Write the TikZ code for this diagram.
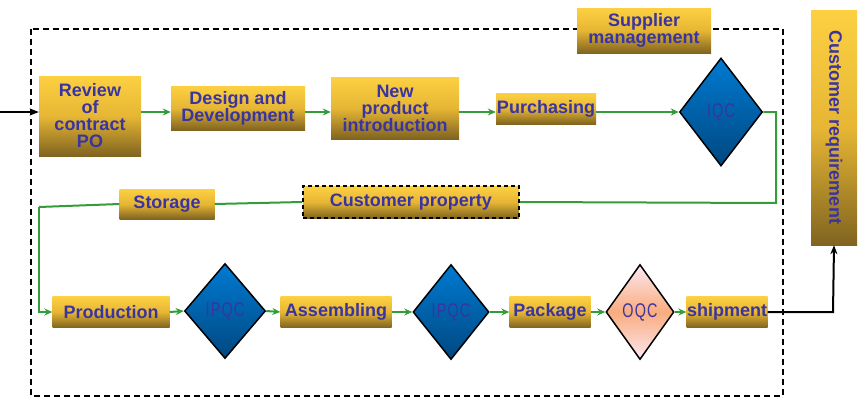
\documentclass[tikz,border=0pt]{standalone}
\usepackage{fontspec}
\setmainfont{Liberation Sans}
\newfontfamily\qcfont[LetterSpace=8]{Liberation Sans}
\usetikzlibrary{shapes.geometric,arrows.meta}
\definecolor{txtblue}{RGB}{58,52,160}
\definecolor{goldtop}{RGB}{253,208,66}
\definecolor{goldmid}{RGB}{230,182,52}
\definecolor{goldbot}{RGB}{128,100,32}
\definecolor{bluetop}{RGB}{0,122,210}
\definecolor{bluebot}{RGB}{0,72,128}
\definecolor{flowgreen}{RGB}{52,156,56}
\definecolor{oqctop}{RGB}{252,232,242}
\definecolor{oqcmid}{RGB}{249,172,126}
\newcommand{\qctext}[1]{\scalebox{0.8}[1.1]{#1}}
\tikzset{
  gbox/.style={rectangle, inner sep=0pt, top color=goldtop, bottom color=goldbot, middle color=goldmid,
    text=txtblue, font=\fontsize{18}{17}\selectfont\bfseries, align=center},
  qcdia/.style={diamond, inner sep=0pt, draw=black, line width=1.5pt, top color=bluetop, bottom color=bluebot,
    text=txtblue, font=\qcfont\fontsize{18}{18}\selectfont},
  oqcdia/.style={diamond, inner sep=0pt, draw=black, line width=1.5pt, top color=oqctop, bottom color=oqctop, middle color=oqcmid,
    text=txtblue, font=\qcfont\fontsize{18}{18}\selectfont},
  garrow/.style={draw=flowgreen, line width=2pt, -{Stealth[length=8pt,width=7pt]}},
  gline/.style={draw=flowgreen, line width=2pt},
  barrow/.style={draw=black, line width=2pt, -{Stealth[length=9pt,width=7pt]}},
}
\begin{document}
\begin{tikzpicture}[x=1pt,y=-1pt]
\useasboundingbox (0,0) rectangle (858,410);
% outer dashed frame
\draw[black, line width=2pt, dash pattern=on 6pt off 4pt] (31,29) rectangle (783,396);

% row 1
\node[gbox, minimum width=102pt, minimum height=80pt] (review) at (90,116) {Review\\of\\contract\\PO};
\node[gbox, minimum width=134pt, minimum height=44pt] (design) at (238,108) {Design and\\Development};
\node[gbox, minimum width=128pt, minimum height=62pt] (npi) at (395,108) {New\\product\\introduction};
\node[gbox, minimum width=100pt, minimum height=31pt] (purch) at (546,108.5) {Purchasing};
\node[qcdia, minimum width=83pt, minimum height=108pt] (iqc) at (721,112) {\qctext{IQC}};

% supplier management, customer requirement
\node[gbox, minimum width=134pt, minimum height=45pt] (supp) at (644,30.5) {Supplier\\management};
\node[gbox, minimum width=46pt, minimum height=235pt] (custreq) at (834,127.5) {};
\node[text=txtblue, font=\fontsize{18}{17}\selectfont\bfseries, rotate=-90] (custreqtxt) at (834,127.5) {Customer requirement};

% row 2
\node[gbox, minimum width=95pt, minimum height=30pt] (storage) at (167,204) {Storage};
\node[gbox, minimum width=216pt, minimum height=32pt, draw=black, line width=2pt, dash pattern=on 4pt off 3pt] (custprop) at (411,202) {Customer property};

% row 3
\node[gbox, minimum width=117pt, minimum height=31pt] (prod) at (111,312) {Production};
\node[qcdia, minimum width=81pt, minimum height=95pt] (ipqc1) at (225,311) {\qctext{IPQC}};
\node[gbox, minimum width=111pt, minimum height=31pt] (assem) at (336,312) {Assembling};
\node[qcdia, minimum width=76pt, minimum height=95pt] (ipqc2) at (451,312) {\qctext{IPQC}};
\node[gbox, minimum width=81pt, minimum height=31pt] (pack) at (550,312) {Package};
\node[oqcdia, minimum width=68pt, minimum height=95pt] (oqc) at (640,312) {\qctext{OQC}};
\node[gbox, minimum width=81pt, minimum height=31pt] (ship) at (727,312) {shipment};

% coordinates
\coordinate (inp) at (0,112);
\coordinate (c1) at (776,112);
\coordinate (c2) at (776,203);
\coordinate (c3) at (39,207);
\coordinate (c4) at (39,312);
\coordinate (c5) at (833,312);

% connectors row 1
\draw[barrow] (inp) -- (inp -| review.west);
\draw[garrow] (review.east |- iqc) -- (design.west |- iqc);
\draw[garrow] (design.east |- iqc) -- (npi.west |- iqc);
\draw[garrow] (npi.east |- iqc) -- (purch.west |- iqc);
\draw[garrow] (purch.east |- iqc) -- (iqc.west);
\draw[gline] (iqc.east) -- (c1) -- (c2) -- (custprop.east);
\draw[gline] (custprop.west) -- (storage.east);
\draw[gline] (storage.west) -- (c3);
\draw[garrow] (c3) -- (c4) -- (prod.west);

% row 3
\draw[garrow] (prod.east) -- (ipqc1.west);
\draw[garrow] (ipqc1.east) -- (assem.west);
\draw[garrow] (assem.east) -- (ipqc2.west);
\draw[garrow] (ipqc2.east) -- (pack.west);
\draw[garrow] (pack.east) -- (oqc.west);
\draw[garrow] (oqc.east) -- (ship.west);
\draw[barrow] (ship.east) -- (c5) -- (custreq.south);
\end{tikzpicture}
\end{document}
